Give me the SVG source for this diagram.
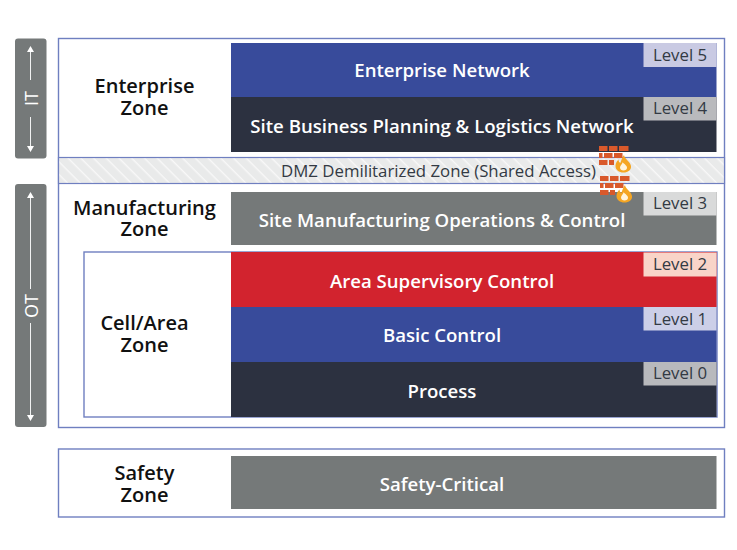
<svg xmlns="http://www.w3.org/2000/svg" width="737" height="550" viewBox="0 0 737 550">
<style>
text{font-family:"Open Sans","Noto Sans","Liberation Sans",sans-serif;text-anchor:middle}
.zone{font-size:20px;font-weight:600;fill:#111}
.bar{font-size:18.600px;font-weight:600;fill:#fff}
.lvl{font-size:16.800px;fill:#333a44}
.box{fill:#fff;stroke:#6f7fc0;stroke-width:1.400}
.side{fill:#757979}
.arr{stroke:#fff;stroke-width:1;fill:none;opacity:.9}
.head{fill:#fff}
.brick{fill:#d9592b}
.flame{fill:#f5a623}
.flame2{fill:#fff4dc}
</style>
<defs>
<pattern id="hatch" width="9" height="9" patternUnits="userSpaceOnUse" patternTransform="rotate(45)">
<rect width="9" height="9" fill="#e9eaea"/><rect width="9" height="1.400" fill="#f8f8f8"/>
</pattern>
<g id="fw">
<path class="brick" d="M0 0h8.500v5h-8.500zM10 0h8.500v5h-8.500zM20 0h9.500v5h-9.500zM0 7h3.500v5h-3.500zM5 7h8.500v5h-8.500zM15 7h8.500v5h-8.500zM0 14h8.500v5h-8.500zM10 14h5v5h-5z"/>
<path class="flame" d="M25 9c.5 4 6 6 7 11 .5 4-3 6.500-7.500 6.500s-8-2.500-8-6.500c0-3 1.500-5 3-6.500 0 2 .8 3 2 3.300 .8-3 1.800-5.300 3.500-7.800z"/>
<path class="flame2" d="M24.500 24.500c-2 0-3.500-1.300-3.500-3 0-2 2-3 2.700-5.300 1.200 1.800 4.300 3 4.300 5.500 0 1.700-1.500 2.800-3.500 2.800z"/>
</g>
</defs>

<g id="it-side">
<rect class="side" x="15" y="38.500" width="31.500" height="120" rx="3"/>
<text x="31" y="98.500" transform="rotate(-90 31 98.500)" dominant-baseline="central" font-size="18" fill="#fff">IT</text>
<path class="arr" d="M30.500 50V80M30.500 117V148"/>
<path class="head" d="M30.500 46l3.500 6h-7zM30.500 152l3.500-6h-7z"/>
</g>
<g id="ot-side">
<rect class="side" x="15" y="184" width="31.500" height="243" rx="3"/>
<text x="31" y="306" transform="rotate(-90 31 306)" dominant-baseline="central" font-size="18" fill="#fff">OT</text>
<path class="arr" d="M30.500 196V289M30.500 323V416"/>
<path class="head" d="M30.500 192l3.500 6h-7zM30.500 421l3.500-6h-7z"/>
</g>

<g id="enterprise-zone">
<rect class="box" x="58.500" y="38.500" width="666" height="389"/>
<text class="zone" x="144.500" y="93">Enterprise</text>
<text class="zone" x="144.500" y="115">Zone</text>
</g>
<g id="dmz">
<rect x="58.500" y="157.500" width="666" height="26" fill="url(#hatch)" stroke="#6f7fc0" stroke-width="1.200"/>
<text x="438.500" y="177" font-size="16.800" fill="#333a44">DMZ Demilitarized Zone (Shared Access)</text>
</g>
<g id="manufacturing-zone">
<text class="zone" x="144.500" y="215">Manufacturing</text>
<text class="zone" x="144.500" y="236">Zone</text>
</g>
<g id="cell-area-zone">
<rect class="box" x="84" y="252" width="633" height="165"/>
<text class="zone" x="144.500" y="330">Cell/Area</text>
<text class="zone" x="144.500" y="352">Zone</text>
</g>

<g id="level5">
<rect x="231" y="43" width="485.500" height="54" fill="#384b9b"/>
<text class="bar" x="442" y="77">Enterprise Network</text>
<rect x="643.500" y="43" width="73" height="24" fill="#c9cae3"/>
<text class="lvl" x="680" y="61">Level 5</text>
</g>
<g id="level4">
<rect x="231" y="97" width="485.500" height="55" fill="#2c3140"/>
<text class="bar" x="442" y="133">Site Business Planning &amp; Logistics Network</text>
<rect x="643.500" y="97" width="73" height="23.500" fill="#b9babd"/>
<text class="lvl" x="680" y="114">Level 4</text>
</g>
<g id="level3">
<rect x="231" y="192" width="485.500" height="53" fill="#757979"/>
<text class="bar" x="442" y="227">Site Manufacturing Operations &amp; Control</text>
<rect x="643.500" y="192" width="73" height="23.500" fill="#d9dada"/>
<text class="lvl" x="680" y="209">Level 3</text>
</g>
<g id="level2">
<rect x="231" y="252" width="485.500" height="55" fill="#d2232e"/>
<text class="bar" x="442" y="288">Area Supervisory Control</text>
<rect x="643.500" y="252.500" width="73" height="24" fill="#f9d4c8"/>
<text class="lvl" x="680" y="270">Level 2</text>
</g>
<g id="level1">
<rect x="231" y="307" width="485.500" height="55" fill="#384b9b"/>
<text class="bar" x="442" y="342">Basic Control</text>
<rect x="643.500" y="307" width="73" height="23.500" fill="#cccfe8"/>
<text class="lvl" x="680" y="325">Level 1</text>
</g>
<g id="level0">
<rect x="231" y="362" width="485.500" height="55" fill="#2c3140"/>
<text class="bar" x="442" y="398">Process</text>
<rect x="643.500" y="362" width="73" height="23.500" fill="#b8b9bd"/>
<text class="lvl" x="680" y="379">Level 0</text>
</g>

<g id="firewall-1"><use href="#fw" x="599" y="146"/></g>
<g id="firewall-2"><use href="#fw" x="600" y="176"/></g>

<g id="safety-zone">
<rect class="box" x="58.500" y="449" width="666" height="68"/>
<text class="zone" x="144.500" y="480">Safety</text>
<text class="zone" x="144.500" y="502">Zone</text>
<rect x="231" y="456" width="485.500" height="53" fill="#757979"/>
<text class="bar" x="442" y="491">Safety-Critical</text>
</g>
</svg>
